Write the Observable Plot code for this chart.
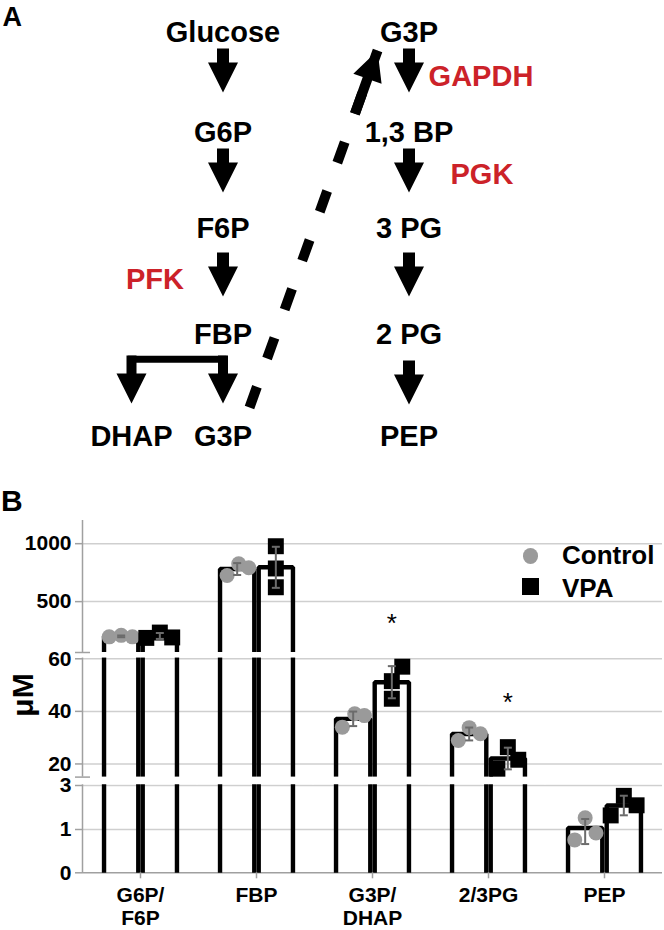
<!DOCTYPE html>
<html>
<head>
<meta charset="utf-8">
<script src="https://cdn.jsdelivr.net/npm/d3@7"></script>
<script src="https://cdn.jsdelivr.net/npm/@observablehq/plot@0.6"></script>
<style>
html,body{margin:0;padding:0;background:#fff;}
#fig{position:relative;width:664px;height:930px;overflow:hidden;font-family:"Liberation Sans",Arial,Helvetica,sans-serif;font-weight:bold;color:#000;}
#fig svg{display:block;}
.lbl{position:absolute;line-height:1;white-space:nowrap;}
</style>
</head>
<body>
<div id="fig"></div>
<script>
// ---------------- Panel A: pathway (diagram) ----------------
const pathwayNodes = [
  {label: "Glucose", col: 1, row: 0},
  {label: "G6P", col: 1, row: 1},
  {label: "F6P", col: 1, row: 2},
  {label: "FBP", col: 1, row: 3},
  {label: "DHAP", col: 0, row: 4},
  {label: "G3P", col: 1, row: 4},
  {label: "G3P", col: 2, row: 0},
  {label: "1,3 BP", col: 2, row: 1},
  {label: "3 PG", col: 2, row: 2},
  {label: "2 PG", col: 2, row: 3},
  {label: "PEP", col: 2, row: 4}
];
const enzymes = [
  {label: "PFK", col: 0.257, row: 2.479},
  {label: "GAPDH", col: 2.387, row: 0.437},
  {label: "PGK", col: 2.392, row: 1.44}
];
// block arrows: column and the row position of the tip
const stepArrows = [
  {col: 1, tip: 0.608}, {col: 1, tip: 1.632}, {col: 1, tip: 2.649},
  {col: 2, tip: 0.608}, {col: 2, tip: 1.632}, {col: 2, tip: 2.649}, {col: 2, tip: 3.693}
];
const splitArrows = [{col: 0, tip: 3.683}, {col: 1, tip: 3.683}];
const splitBar = [{x1: 0, x2: 1, row: 3.25}];
const transferArrow = [{x1: 1.1425, y1: 3.722, x2: 1.831, y2: 0.186}];

// ---------------- Panel B: metabolite levels ----------------
const categories = ["G6P/F6P", "FBP", "G3P/DHAP", "2/3PG", "PEP"];
const categoryLabels = ["G6P/\nF6P", "FBP", "G3P/\nDHAP", "2/3PG", "PEP"];
const seriesNames = ["Control", "VPA"];
const controlValues = [[196, 209, 196], [725, 826, 792], [34.0, 39.1, 38.4], [28.9, 33.8, 31.5], [0.76, 1.53, 0.92]];
const vpaValues = [[187, 233, 191], [978, 786, 624], [44.8, 51.5, 57.0], [18.2, 26.4, 21.6], [1.64, 2.53, 2.10]];
const controlJitter = [[-0.31, 0, 0.29], [-0.26, 0.04, 0.3], [-0.28, 0.04, 0.29], [-0.28, 0, 0.29], [-0.27, 0, 0.28]];
const vpaJitter = [[-0.35, 0, 0.32], [0, 0, 0], [0, 0, 0.27], [-0.27, 0, 0.27], [-0.34, 0, 0.33]];
const sigCategories = ["G3P/DHAP", "2/3PG"];
const sigY = [307, 43.5];
const yTicks = [0, 1, 3, 20, 40, 60, 500, 1000];
const yBreaks = [[3, 15], [60, 61]];
// broken axis: value breakpoints and their height (px) above the baseline
const yDomain = [0, 1, 3, 15, 60, 61, 1200];
const yHeights = [0, 43.3, 87.3, 95.7, 214, 220.3, 352.3];

const FONT = '"Liberation Sans", Arial, Helvetica, sans-serif';

function arrowSymbol(len, shaftW, headW = 30, headL = 30) {
  return {
    draw(ctx) {
      ctx.moveTo(0, 0);
      ctx.lineTo(-headW / 2, -headL);
      ctx.lineTo(-shaftW / 2, -headL);
      ctx.lineTo(-shaftW / 2, -len);
      ctx.lineTo(shaftW / 2, -len);
      ctx.lineTo(shaftW / 2, -headL);
      ctx.lineTo(headW / 2, -headL);
      ctx.closePath();
    }
  };
}
function hline(w) {
  return {draw(ctx) { ctx.moveTo(-w / 2, 0); ctx.lineTo(w / 2, 0); }};
}

// diagram grid: column / row -> layout position
const colPos = d3.scaleLinear([0, 1, 2], [131, 222.5, 408.5]);
const rowPos = d3.scaleLinear([0, 1, 2, 3, 4], [31.5, 131, 227.5, 333, 435.5]);

const chartA = Plot.plot({
  width: 664, height: 470, margin: 0,
  x: {transform: colPos, domain: [0, 664], range: [0, 664], axis: null},
  y: {transform: rowPos, domain: [0, 470], range: [0, 470], axis: null},
  style: {fontFamily: FONT, fontWeight: "bold", background: "white", color: "black", overflow: "visible"},
  marks: [
    Plot.link(transferArrow, {x1: "x1", y1: "y1", x2: "x2", y2: "y2", stroke: "black", strokeWidth: 10, strokeDasharray: "22,30", strokeLinecap: "butt"}),
    Plot.dot(transferArrow, {x: "x2", y: "y2", symbol: arrowSymbol(67, 10), rotate: 199.7, fill: "black", stroke: "none"}),
    Plot.link(splitBar, {x1: "x1", x2: "x2", y1: "row", y2: "row", stroke: "black", strokeWidth: 7, strokeLinecap: "square"}),
    Plot.dot(stepArrows, {x: "col", y: "tip", symbol: arrowSymbol(44, 12), fill: "black", stroke: "none"}),
    Plot.dot(splitArrows, {x: "col", y: "tip", symbol: arrowSymbol(48, 10), fill: "black", stroke: "none"}),
    Plot.text(pathwayNodes, {x: "col", y: "row", text: "label", fontSize: 29, fontWeight: "bold", fill: "black", dy: 1}),
    Plot.text(enzymes, {x: "col", y: "row", text: "label", fontSize: 29, fontWeight: "bold", fill: "#cc2229", dy: 1}),
    Plot.text(["A"], {frameAnchor: "top-left", text: d => d, textAnchor: "start", lineAnchor: "top", dx: 2, dy: 6, fontSize: 27, fontWeight: "bold"})
  ]
});

// derived tables
const points = categories.flatMap((cat, i) => seriesNames.flatMap((s, si) => {
  const vals = si ? vpaValues[i] : controlValues[i];
  const jit = si ? vpaJitter[i] : controlJitter[i];
  return vals.map((v, k) => ({cat, series: s, s: si, x: si + jit[k], value: v}));
}));
const summary = categories.flatMap((cat, i) => seriesNames.map((s, si) => {
  const vals = si ? vpaValues[i] : controlValues[i];
  return {cat, series: s, s: si, mean: d3.mean(vals), sd: d3.deviation(vals)};
}));
const half = 0.443;
const barVerts = summary.flatMap((d, j) => [[d.s - half, 0], [d.s - half, d.mean], [d.s + half, d.mean], [d.s + half, 0]]
  .map(([x, y]) => ({cat: d.cat, id: j, x, y})));
const caps = summary.flatMap(d => [{cat: d.cat, s: d.s, y: d.mean - d.sd}, {cat: d.cat, s: d.s, y: d.mean + d.sd}]);
const sig = sigCategories.map((cat, i) => ({cat, y: sigY[i]}));
const axisAnchor = [{cat: categories[0], x: -1}];
const breakMarks = yBreaks.map(b => ({cat: categories[0], x: -1, y: b[1]}));
const yBroken = d3.scaleLinear(yDomain, yHeights);
// axis marks take positions in the transformed (broken-axis) space
const tickPos = yTicks.map(t => yBroken(t));
const tickText = v => String(yTicks[tickPos.indexOf(v)]);

const chartB = Plot.plot({
  width: 664, height: 460,
  marginLeft: 82, marginRight: 2, marginTop: 0, marginBottom: 57.7,
  style: {fontFamily: FONT, fontWeight: "bold", fontSize: "22px", background: "white", color: "black", overflow: "visible"},
  fx: {domain: categories, padding: 0, label: null},
  x: {domain: [-1, 2], axis: null},
  y: {transform: yBroken, domain: [0, 352.3], range: [402.3, 50], axis: null},
  marks: [
    Plot.gridY({ticks: tickPos.slice(1), stroke: "#cfcfcf", strokeOpacity: 1, strokeWidth: 1.5}),
    Plot.ruleY([0], {stroke: "#a0a0a0", strokeWidth: 1.5}),
    Plot.ruleX(axisAnchor, {fx: "cat", x: "x", y1: 0, y2: 1200, stroke: "#a0a0a0", strokeWidth: 1.5}),
    Plot.line(barVerts, {fx: "cat", x: "x", y: "y", z: "id", stroke: "black", strokeWidth: 4.4, strokeLinecap: "butt", strokeLinejoin: "miter"}),
    Plot.rect(yBreaks, {y1: d => d[0], y2: d => d[1], fill: "white", insetLeft: -2, insetBottom: 0.75}),
    Plot.dot(breakMarks, {fx: "cat", x: "x", y: "y", symbol: hline(15), stroke: "#a0a0a0", strokeWidth: 1.5, fill: "none"}),
    Plot.axisY({ticks: tickPos, tickSize: 7, tickPadding: 4, tickFormat: tickText, fontSize: 21, fontWeight: "bold", stroke: "#a0a0a0", strokeWidth: 1.5, label: null}),
    Plot.dot(points.filter(d => d.s === 0), {fx: "cat", x: "x", y: "value", r: 7.5, fill: "#9a9a9a", stroke: "none"}),
    Plot.dot(points.filter(d => d.s === 1), {fx: "cat", x: "x", y: "value", symbol: "square", r: 9, fill: "black", stroke: "none"}),
    Plot.ruleX(summary, {fx: "cat", x: "s", y1: d => d.mean - d.sd, y2: d => d.mean + d.sd, stroke: "#6b6b6b", strokeWidth: 2}),
    Plot.dot(caps, {fx: "cat", x: "s", y: "y", symbol: hline(8), stroke: "#6b6b6b", strokeWidth: 2, fill: "none"}),
    Plot.text(sig, {fx: "cat", x: () => 1, y: "y", text: () => "*", fontSize: 26, fontWeight: "normal", fill: "black"}),
    Plot.axisFx({anchor: "bottom", tickSize: 6, tickPadding: 8, tickFormat: d => categoryLabels[categories.indexOf(d)], fontSize: 21, fontWeight: "bold", lineHeight: 1.05, stroke: "#a0a0a0", strokeWidth: 1.5, label: null})
  ]
});

const fig = document.getElementById("fig");
fig.append(chartA, chartB);

function addLabel(text, css) {
  const el = document.createElement("div");
  el.className = "lbl";
  el.textContent = text;
  Object.assign(el.style, css);
  fig.appendChild(el);
  return el;
}
addLabel("B", {left: "1px", top: "486px", fontSize: "30px"});
addLabel("μM", {left: "23px", top: "695px", fontSize: "30px", transform: "translate(-50%,-50%) rotate(-90deg)"});
// legend
const legend = [
  {name: seriesNames[0], top: 542.3, shape: {left: "522.8px", top: "548.2px", width: "15.7px", height: "15.7px", borderRadius: "50%", background: "#9a9a9a"}},
  {name: seriesNames[1], top: 574.7, shape: {left: "522.3px", top: "578.3px", width: "16.7px", height: "16.7px", background: "#000"}}
];
legend.forEach(l => {
  const sw = document.createElement("div");
  sw.style.position = "absolute";
  Object.assign(sw.style, l.shape);
  fig.appendChild(sw);
  addLabel(l.name, {left: "562px", top: l.top + "px", fontSize: "26px"});
});
</script>
</body>
</html>
